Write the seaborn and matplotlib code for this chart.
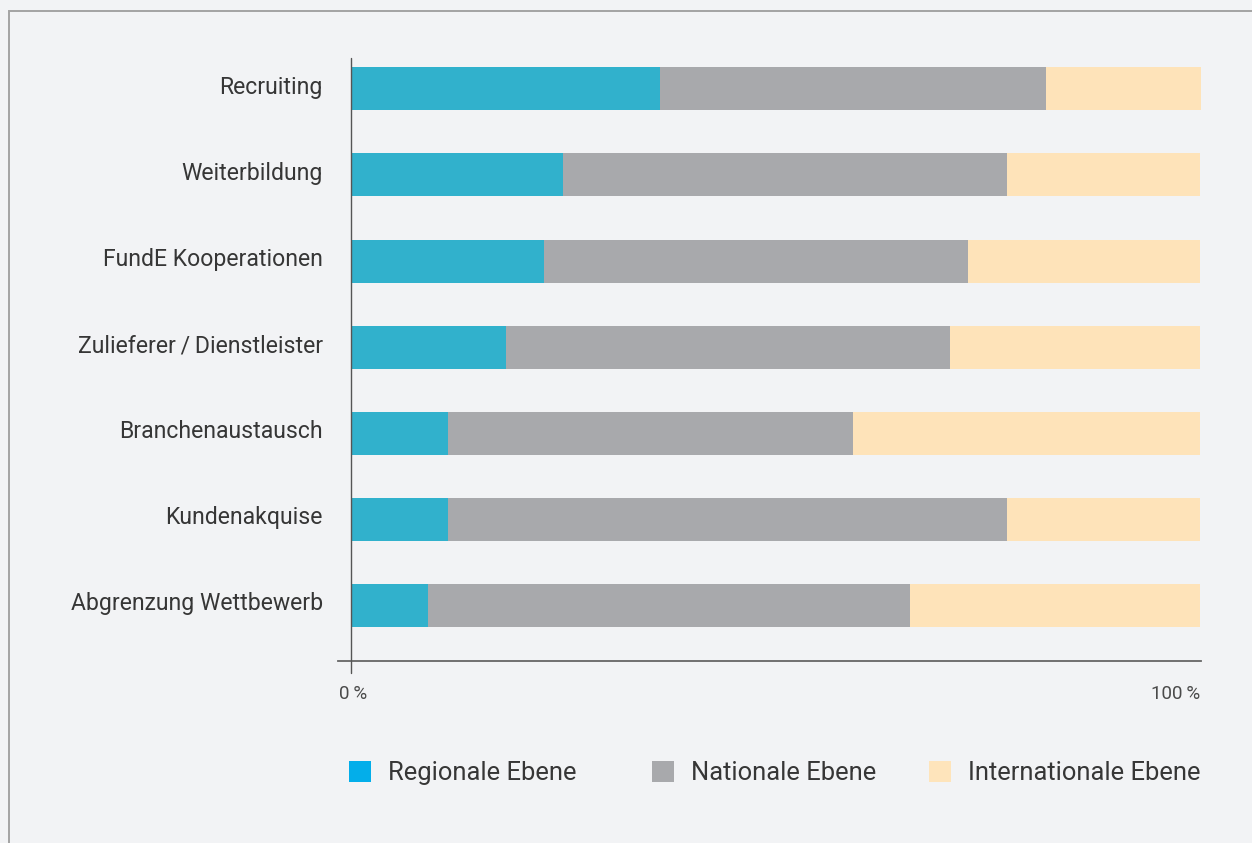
import matplotlib
matplotlib.use("Agg")
import matplotlib.pyplot as plt
import matplotlib.transforms as mtransforms
from matplotlib.patches import Rectangle, Patch
import seaborn as sns
import pandas as pd

# Share of each cooperation level per topic (percent of respondents)
categories = ["Recruiting", "Weiterbildung", "FundE Kooperationen",
              "Zulieferer\u2009/\u2009Dienstleister", "Branchenaustausch",
              "Kundenakquise", "Abgrenzung Wettbewerb"]
regional = [36.4, 25.0, 22.7, 18.2, 11.4, 11.4, 9.1]
national = [45.5, 52.3, 50.0, 52.3, 47.7, 65.9, 56.8]
international = [18.2, 22.7, 27.3, 29.5, 40.9, 22.7, 34.1]
series_names = ["Regionale Ebene", "Nationale Ebene", "Internationale Ebene"]

bar_colors = ["#31b1cc", "#a8a9ac", "#fee3b9"]
legend_colors = ["#03aeea", "#a8a9ac", "#fee4bb"]
bg = "#f2f3f5"
text_color = "#363636"

sns.set_theme(style="white")
plt.rcParams["font.family"] = ["Roboto", "DejaVu Sans"]

df = pd.DataFrame({"Thema": categories,
                   "reg": regional, "nat": national, "int": international})
df["cum_reg"] = df["reg"]
df["cum_nat"] = df["reg"] + df["nat"]
df["cum_int"] = df["reg"] + df["nat"] + df["int"]

W, H = 1252, 843
fig = plt.figure(figsize=(W / 100, H / 100), dpi=100, facecolor=bg)

# Thin frame around the panel
fig.patches.append(Rectangle((9 / W, -0.1), 2.0, (H - 11.5) / H + 0.1,
                             transform=fig.transFigure, fill=False,
                             edgecolor="#a3a3a3", linewidth=1.4, zorder=0))

ax_l, ax_r, ax_t, ax_b = 338, 1201, 58, 661
ax = fig.add_axes([ax_l / W, (H - ax_b) / H, (ax_r - ax_l) / W, (ax_b - ax_t) / H])
ax.set_facecolor(bg)

# Stack by drawing cumulative totals back to front
for col, color in zip(["cum_int", "cum_nat", "cum_reg"], bar_colors[::-1]):
    sns.barplot(data=df, y="Thema", x=col, color=color, width=0.5,
                orient="h", saturation=1, linewidth=0, ax=ax)

px_per_pct = (1200 - 351) / 100
ax.set_xlim(-(351 - ax_l) / px_per_pct, 100 + (ax_r - 1200) / px_per_pct)
ax.set_ylim(6.65, -0.36)

for s in ["top", "right", "left"]:
    ax.spines[s].set_visible(False)
ax.spines["bottom"].set_color("#666666")
ax.spines["bottom"].set_linewidth(1.3)

# Vertical zero line reaching slightly below the baseline
ax.plot([0, 0], [6.79, -0.36], color="#555555", lw=1.0, clip_on=False, zorder=5)

ax.set_xlabel("")
ax.set_ylabel("")
ax.set_xticks([])
ax.tick_params(axis="y", length=0, pad=11, labelsize=16.6, labelcolor=text_color)
shift_up = mtransforms.ScaledTranslation(0, 4 / 100, fig.dpi_scale_trans)
for lbl in ax.get_yticklabels():
    lbl.set_transform(lbl.get_transform() + shift_up)

ax.text(0.2, 6.93, "0\u2009%", ha="center", va="top", fontsize=13.5,
        color="#4a4a4a", clip_on=False)
ax.text(100, 6.93, "100\u2009%", ha="right", va="top", fontsize=13.5,
        color="#4a4a4a", clip_on=False)

# Legend entries placed individually
leg_x = [349, 652, 929]
for name, color, x in zip(series_names, legend_colors, leg_x):
    handle = Patch(facecolor=color, edgecolor="none")
    leg = fig.legend([handle], [name], loc="center left",
                     bbox_to_anchor=(x / W, (H - 773) / H),
                     frameon=False, handlelength=0.88, handleheight=0.88,
                     handletextpad=0.65, borderpad=0, borderaxespad=0,
                     prop={"size": 18.4})
    for t in leg.get_texts():
        t.set_color(text_color)

fig.savefig("out.png", dpi=100, facecolor=bg)
